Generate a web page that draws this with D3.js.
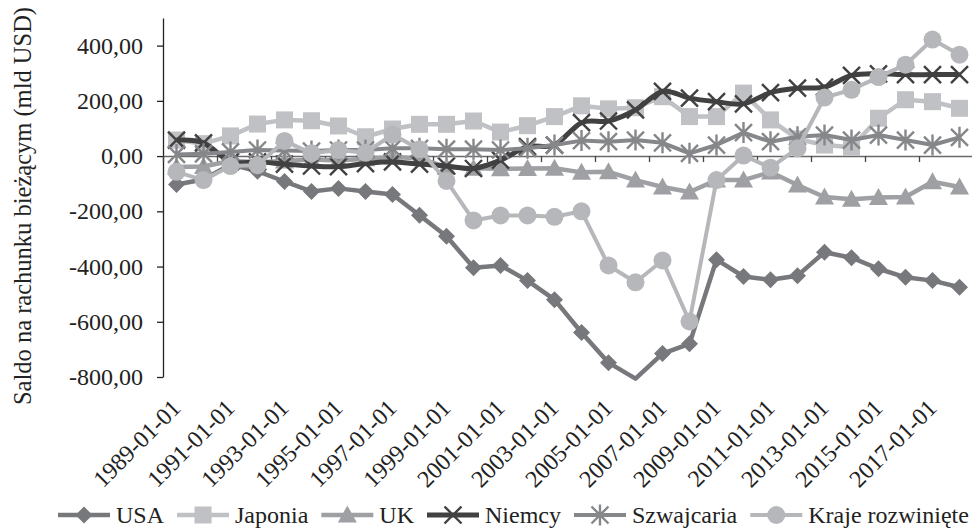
<!DOCTYPE html>
<html>
<head>
<meta charset="utf-8">
<script src="https://cdn.jsdelivr.net/npm/d3@7"></script>
<style>
    body { margin: 0; background: #fff; }
    text { font-family: "Liberation Serif", "Times New Roman", serif; fill: #222; }
</style>
</head>
<body>
<div class="vis"></div>
<script>
const width = 972;
const height = 528;

// Categories (first day of each year)
const years = [1989, 1990, 1991, 1992, 1993, 1994, 1995, 1996, 1997, 1998,
    1999, 2000, 2001, 2002, 2003, 2004, 2005, 2006, 2007, 2008,
    2009, 2010, 2011, 2012, 2013, 2014, 2015, 2016, 2017, 2018];

// Current account balance, bn USD
const usa = [-103, -85, -30, -55, -92, -128, -117, -128, -139, -214,
    -290, -404, -396, -451, -520, -639, -748, -806, -715, -680,
    -375, -436, -448, -433, -348, -368, -408, -439, -451, -475];
const japonia = [58, 45, 73, 116, 131, 128, 109, 70, 98, 115,
    115, 127, 87, 110, 143, 182, 171, 175, 215, 143,
    143, 228, 131, 62, 40, 32, 137, 204, 197, 173];
const uk = [-40, -38, -18, -22, -18, -12, -16, -10, -3, -8,
    -40, -44, -46, -45, -44, -59, -57, -87, -112, -130,
    -87, -87, -58, -105, -148, -156, -150, -148, -93, -112];
const niemcy = [58, 48, -20, -21, -29, -36, -38, -27, -21, -29,
    -36, -45, -15, 34, 40, 121, 127, 167, 234, 210,
    197, 189, 230, 246, 250, 292, 298, 295, 295, 295];
const szwajcaria = [6, 8, 15, 22, 20, 18, 22, 22, 28, 28,
    25, 25, 22, 28, 40, 56, 52, 58, 48, 10,
    40, 85, 52, 70, 76, 58, 76, 58, 40, 68];
const kraje = [-57, -87, -36, -33, 55, 10, 22, 12, 78, 25,
    -90, -233, -215, -215, -220, -200, -396, -457, -378, -599,
    -87, 2, -42, 28, 212, 240, 286, 331, 422, 367];

const yTicks = [-800, -600, -400, -200, 0, 200, 400];

const series = [
    { name: "USA", values: usa, color: "#77787b", marker: "diamond", width: 4.5 },
    { name: "Japonia", values: japonia, color: "#c0c1c4", marker: "square", width: 4.5 },
    { name: "UK", values: uk, color: "#9fa0a3", marker: "triangle", width: 4.5 },
    { name: "Niemcy", values: niemcy, color: "#414141", marker: "x", width: 5, smooth: true },
    { name: "Szwajcaria", values: szwajcaria, color: "#86878a", marker: "star", width: 4 },
    { name: "Kraje rozwinięte", values: kraje, color: "#b6b7ba", marker: "circle", width: 4 }
];

const plotLeft = 163, plotRight = 973, plotTop = 18, plotBottom = 377;
const fontSize = 24;

const locale = d3.formatLocale({ decimal: ",", thousands: " ", grouping: [3], currency: ["", ""], minus: "-" });
const formatter = locale.format(".2f");

const svg = d3.select(".vis").append("svg")
    .attr("width", width)
    .attr("height", height);

// Scales
const xScale = d3.scaleBand()
    .domain(years)
    .range([plotLeft, plotRight]);
const xCenter = d => xScale(d) + xScale.bandwidth() / 2;

const xEdge = d3.scaleLinear()
    .domain([0, years.length])
    .range([plotLeft, plotRight]);

const yScale = d3.scaleLinear()
    .domain([-800, 500])
    .range([plotBottom, plotTop]);

// Y axis
const yAxis = d3.axisLeft(yScale)
    .tickValues(yTicks)
    .tickSize(6)
    .tickSizeOuter(0)
    .tickPadding(14)
    .tickFormat(formatter);

svg.append("g")
    .attr("transform", `translate(${plotLeft}, 0)`)
    .call(yAxis)
    .call(g => g.select(".domain").attr("stroke", "#222").attr("stroke-width", 1.3))
    .call(g => g.selectAll(".tick line").attr("stroke", "#222").attr("stroke-width", 1.3))
    .call(g => g.selectAll("text")
        .attr("font-family", "Liberation Serif")
        .attr("font-size", fontSize)
        .attr("fill", "#222"));

// X axis on the zero line, tick every second category
const xAxis = d3.axisBottom(xEdge)
    .tickValues(d3.range(0, years.length + 1, 2))
    .tickSize(6)
    .tickSizeOuter(0)
    .tickFormat("");

svg.append("g")
    .attr("transform", `translate(0, ${yScale(0)})`)
    .call(xAxis)
    .call(g => g.select(".domain").attr("stroke", "#6a6a6a").attr("stroke-width", 1.5))
    .call(g => g.selectAll(".tick line").attr("stroke", "#444").attr("stroke-width", 1.3));

// Category labels, rotated, every second year
svg.append("g")
    .selectAll("text")
    .data(years.filter((d, i) => i % 2 === 0))
    .enter()
    .append("text")
    .attr("transform", d => `translate(${xCenter(d)}, 404) rotate(-45)`)
    .attr("text-anchor", "end")
    .attr("dy", "0.33em")
    .attr("font-size", fontSize)
    .text(d => `${d}-01-01`);

// Axis title
svg.append("text")
    .attr("transform", "translate(31, 206) rotate(-90)")
    .attr("text-anchor", "middle")
    .attr("font-size", 24.5)
    .text("Saldo na rachunku bieżącym (mld USD)");

// Marker drawing
function drawMarker(g, type, color) {
    const r = 8.5;
    if (type === "circle") {
        g.append("circle").attr("r", 9).attr("fill", color);
    } else if (type === "diamond") {
        g.append("path").attr("d", `M0,${-r}L${r},0L0,${r}L${-r},0Z`).attr("fill", color);
    } else if (type === "square") {
        g.append("path").attr("d", `M${-r},${-r}h${2 * r}v${2 * r}h${-2 * r}Z`).attr("fill", color);
    } else if (type === "triangle") {
        g.append("path").attr("d", `M0,${-r - 1}L${r + 1},${r - 1}L${-r - 1},${r - 1}Z`).attr("fill", color);
    } else if (type === "x") {
        g.append("path").attr("d", `M${-r},${-r}L${r},${r}M${r},${-r}L${-r},${r}`)
            .attr("stroke", color).attr("stroke-width", 2.4).attr("fill", "none");
    } else if (type === "star") {
        g.append("path").attr("d", `M${-r},${-r}L${r},${r}M${r},${-r}L${-r},${r}M0,${-r - 2}L0,${r + 2}`)
            .attr("stroke", color).attr("stroke-width", 2.4).attr("fill", "none");
    }
}

// Lines + markers, series by series
series.forEach(s => {
    const points = years.map((y, i) => ({ year: y, value: s.values[i] }));

    const line = d3.line()
        .x(d => xCenter(d.year))
        .y(d => yScale(d.value))
        .curve(s.smooth ? d3.curveCardinal.tension(0) : d3.curveLinear);

    svg.append("path")
        .datum(points)
        .attr("d", line)
        .attr("fill", "none")
        .attr("stroke", s.color)
        .attr("stroke-width", s.width)
        .attr("stroke-linejoin", "round");

    // markers outside the value axis are not drawn
    svg.append("g")
        .selectAll("g")
        .data(points.filter(d => d.value >= -800 && d.value <= 500))
        .enter()
        .append("g")
        .attr("transform", d => `translate(${xCenter(d.year)}, ${yScale(d.value)})`)
        .each(function() { drawMarker(d3.select(this), s.marker, s.color); });
});

// Legend
const legend = svg.append("g").attr("transform", "translate(0, 515)");
const lineLen = 52, textGap = 6, itemGap = 13;
let lx = 58;
series.forEach(s => {
    const item = legend.append("g").attr("transform", `translate(${lx}, 0)`);
    item.append("line")
        .attr("x1", 0).attr("x2", lineLen)
        .attr("stroke", s.color)
        .attr("stroke-width", s.width);
    drawMarker(item.append("g").attr("transform", `translate(${lineLen / 2}, 0)`), s.marker, s.color);
    const t = item.append("text")
        .attr("x", lineLen + textGap)
        .attr("y", 7.5)
        .attr("font-size", fontSize)
        .text(s.name);
    lx += lineLen + textGap + t.node().getComputedTextLength() + itemGap;
});
</script>
</body>
</html>
